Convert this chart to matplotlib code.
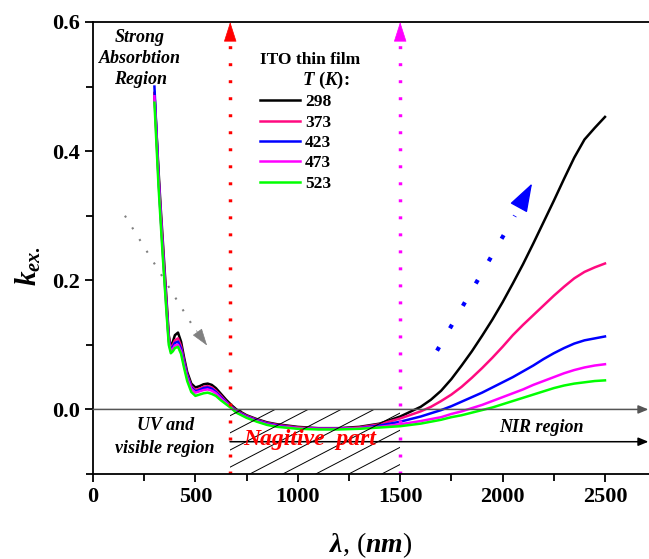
import numpy as np
import matplotlib
matplotlib.use('Agg')
import matplotlib.pyplot as plt
from matplotlib.patches import Rectangle
from matplotlib.ticker import MultipleLocator, FormatStrFormatter

plt.rcParams['font.family'] = 'Liberation Serif'
plt.rcParams['font.weight'] = 'bold'
plt.rcParams['mathtext.fontset'] = 'custom'
plt.rcParams['mathtext.rm'] = 'Liberation Serif:bold'
plt.rcParams['mathtext.it'] = 'Liberation Serif:bold:italic'
plt.rcParams['mathtext.bf'] = 'Liberation Serif:bold'

# wavelength (nm)
wl = [300, 310, 320, 330, 340, 350, 360, 370, 380, 390,
      400, 415, 430, 445, 460, 480, 500, 520, 540, 560,
      580, 600, 625, 650, 675, 700, 750, 800, 850, 900,
      1000, 1100, 1200, 1300, 1400, 1500, 1600, 1650, 1700, 1750,
      1800, 1850, 1900, 1950, 2000, 2050, 2100, 2150, 2200, 2250,
      2300, 2350, 2400, 2450, 2500]

# extinction coefficient k at each temperature
k_298 = [0.490, 0.430, 0.370, 0.315, 0.265, 0.215, 0.165, 0.115, 0.095, 0.105,
         0.115, 0.119, 0.105, 0.080, 0.058, 0.040, 0.034, 0.036, 0.039, 0.040,
         0.038, 0.033, 0.024, 0.015, 0.007, 0.000, -0.009, -0.015, -0.020, -0.023,
         -0.027, -0.029, -0.029, -0.027, -0.022, -0.011, 0.004, 0.015, 0.029, 0.047,
         0.068, 0.090, 0.114, 0.139, 0.166, 0.195, 0.225, 0.257, 0.290, 0.323,
         0.357, 0.390, 0.418, 0.436, 0.453]
k_373 = [0.490, 0.425, 0.362, 0.308, 0.258, 0.208, 0.160, 0.112, 0.093, 0.100,
         0.107, 0.110, 0.098, 0.075, 0.054, 0.036, 0.030, 0.032, 0.035, 0.036,
         0.034, 0.029, 0.021, 0.012, 0.005, -0.002, -0.010, -0.016, -0.021, -0.024,
         -0.028, -0.030, -0.030, -0.028, -0.023, -0.014, -0.003, 0.004, 0.013, 0.023,
         0.035, 0.049, 0.064, 0.080, 0.097, 0.115, 0.131, 0.146, 0.161, 0.176,
         0.190, 0.203, 0.213, 0.220, 0.226]
k_423 = [0.500, 0.430, 0.360, 0.303, 0.252, 0.202, 0.155, 0.108, 0.091, 0.097,
         0.103, 0.105, 0.094, 0.072, 0.052, 0.034, 0.028, 0.030, 0.033, 0.034,
         0.032, 0.027, 0.019, 0.011, 0.004, -0.003, -0.011, -0.017, -0.022, -0.025,
         -0.029, -0.030, -0.030, -0.029, -0.025, -0.019, -0.011, -0.006, -0.001, 0.005,
         0.012, 0.019, 0.026, 0.034, 0.042, 0.050, 0.059, 0.068, 0.078, 0.087,
         0.095, 0.102, 0.107, 0.110, 0.113]
k_473 = [0.485, 0.420, 0.355, 0.300, 0.248, 0.198, 0.150, 0.105, 0.090, 0.094,
         0.099, 0.100, 0.090, 0.068, 0.049, 0.032, 0.026, 0.028, 0.030, 0.031,
         0.029, 0.025, 0.017, 0.010, 0.003, -0.004, -0.012, -0.018, -0.023, -0.026,
         -0.029, -0.030, -0.030, -0.029, -0.027, -0.023, -0.018, -0.015, -0.012, -0.007,
         -0.003, 0.002, 0.007, 0.013, 0.019, 0.025, 0.031, 0.038, 0.044, 0.050,
         0.056, 0.061, 0.065, 0.068, 0.070]
k_523 = [0.475, 0.410, 0.345, 0.292, 0.240, 0.192, 0.145, 0.100, 0.087, 0.090,
         0.095, 0.097, 0.086, 0.064, 0.044, 0.027, 0.021, 0.023, 0.025, 0.026,
         0.024, 0.021, 0.014, 0.008, 0.002, -0.005, -0.013, -0.019, -0.024, -0.027,
         -0.030, -0.031, -0.031, -0.030, -0.028, -0.026, -0.022, -0.019, -0.016, -0.012,
         -0.009, -0.005, -0.001, 0.003, 0.008, 0.013, 0.018, 0.023, 0.028, 0.033,
         0.037, 0.040, 0.042, 0.044, 0.045]

temps = ['298', '373', '423', '473', '523']
series = [k_298, k_373, k_423, k_473, k_523]
colors = ['#000000', '#FF0A80', '#0000FF', '#FF00FF', '#00FF00']

fig = plt.figure(figsize=(6.49, 5.59), dpi=100)
ax = fig.add_axes([93/649, 85/559, 556/649, 452/559])

for lab, k, c in zip(temps, series, colors):
    ax.plot(wl, k, color=c, lw=1.8, label=lab)

ax.set_xlim(0, 2715)
ax.set_ylim(-0.1, 0.6)
ax.xaxis.set_major_locator(MultipleLocator(500))
ax.xaxis.set_minor_locator(MultipleLocator(250))
ax.yaxis.set_major_locator(MultipleLocator(0.2))
ax.yaxis.set_minor_locator(MultipleLocator(0.1))
ax.yaxis.set_major_formatter(FormatStrFormatter('%.1f'))
ax.tick_params(which='both', direction='out', width=1.3, labelsize=16)
ax.tick_params(which='major', length=6)
ax.tick_params(which='minor', length=5)
ax.spines['right'].set_visible(False)
for s in ['left', 'bottom', 'top']:
    ax.spines[s].set_linewidth(1.3)

ax.set_xlabel(r'$\lambda$, ($nm$)', fontsize=20)
ax.xaxis.set_label_coords(0.5, -0.125)
ax.set_ylabel(r'$k_{ex.}$', fontsize=21)
ax.yaxis.set_label_coords(-0.09, 0.46)

# zero line and second reference line with arrows
ax.annotate('', xy=(2712, 0.0), xytext=(0, 0.0),
            arrowprops=dict(arrowstyle='-|>,head_length=0.6,head_width=0.25', color='#555555', lw=1.1,
                            shrinkA=0, shrinkB=0))
ax.annotate('', xy=(2712, -0.05), xytext=(669, -0.05),
            arrowprops=dict(arrowstyle='-|>,head_length=0.6,head_width=0.25', color='black', lw=1.1,
                            shrinkA=0, shrinkB=0))

# hatched negative region
rect = Rectangle((670, -0.1), 830, 0.1, fill=False, lw=0)
ax.add_patch(rect)
slope = 0.52 * (0.7 / 452) / (2715 / 556)
for x0 in np.arange(-200, 1600, 161):
    ln, = ax.plot([x0, x0 + 1500], [-0.1, -0.1 + slope * 1500], color='black', lw=0.7)
    ln.set_clip_path(rect)

# vertical dotted markers
for xv, c in [(670, 'red'), (1500, '#FF00FF')]:
    ax.plot([xv, xv], [-0.1, 0.574], color=c, lw=2.5, linestyle=(0, (0.85, 4.05)))
    ax.annotate('', xy=(xv, 0.6), xytext=(xv, 0.574),
                arrowprops=dict(arrowstyle='-|>,head_length=1.0,head_width=0.32', color=c, lw=0.5,
                                shrinkA=0, shrinkB=0, mutation_scale=13))

# gray dotted arrow
ax.plot([156, 480], [0.300, 0.133], color='gray', lw=1.5, linestyle=(0, (1, 5.6)))
ax.annotate('', xy=(557, 0.099), xytext=(505, 0.122),
            arrowprops=dict(arrowstyle='-|>,head_length=1.0,head_width=0.33', color='gray', lw=0.5,
                            shrinkA=0, shrinkB=0, mutation_scale=11))

# blue dotted arrow
ax.plot([1680, 2060], [0.091, 0.300], color='blue', lw=3, linestyle=(0, (1, 5.2)))
ax.annotate('', xy=(2144, 0.350), xytext=(2085, 0.316),
            arrowprops=dict(arrowstyle='-|>,head_length=1.0,head_width=0.34', color='blue', lw=1,
                            shrinkA=0, shrinkB=0, mutation_scale=18, joinstyle='round'))

# annotations
ax.text(230, 0.543, 'Strong\nAbsorbtion\nRegion', ha='center', va='center', fontsize=13,
        fontstyle='italic', fontweight='bold', linespacing=1.32)
ax.text(352, -0.043, 'UV and\nvisible region', ha='center', va='center', fontsize=13,
        fontstyle='italic', fontweight='bold', linespacing=1.45)
ax.text(1060, -0.047, 'Nagitive  part', ha='center', va='center', fontsize=17,
        fontstyle='italic', fontweight='bold', color='red')
ax.text(2188, -0.028, 'NIR region', ha='center', va='center', fontsize=13,
        fontstyle='italic', fontweight='bold')

# legend
ax.text(0.39, 0.917, 'ITO thin film', transform=ax.transAxes, ha='center', va='center', fontsize=12.5)
ax.text(0.418, 0.87, r'$T$ ($K$):', transform=ax.transAxes, ha='center', va='center', fontsize=13.5)
leg = ax.legend(loc='upper left', bbox_to_anchor=(0.3, 0.84), frameon=False, fontsize=12.5,
                handlelength=2.3, handletextpad=0.3, labelspacing=0.24, borderpad=0, borderaxespad=0)

fig.savefig('out.png', dpi=100)
